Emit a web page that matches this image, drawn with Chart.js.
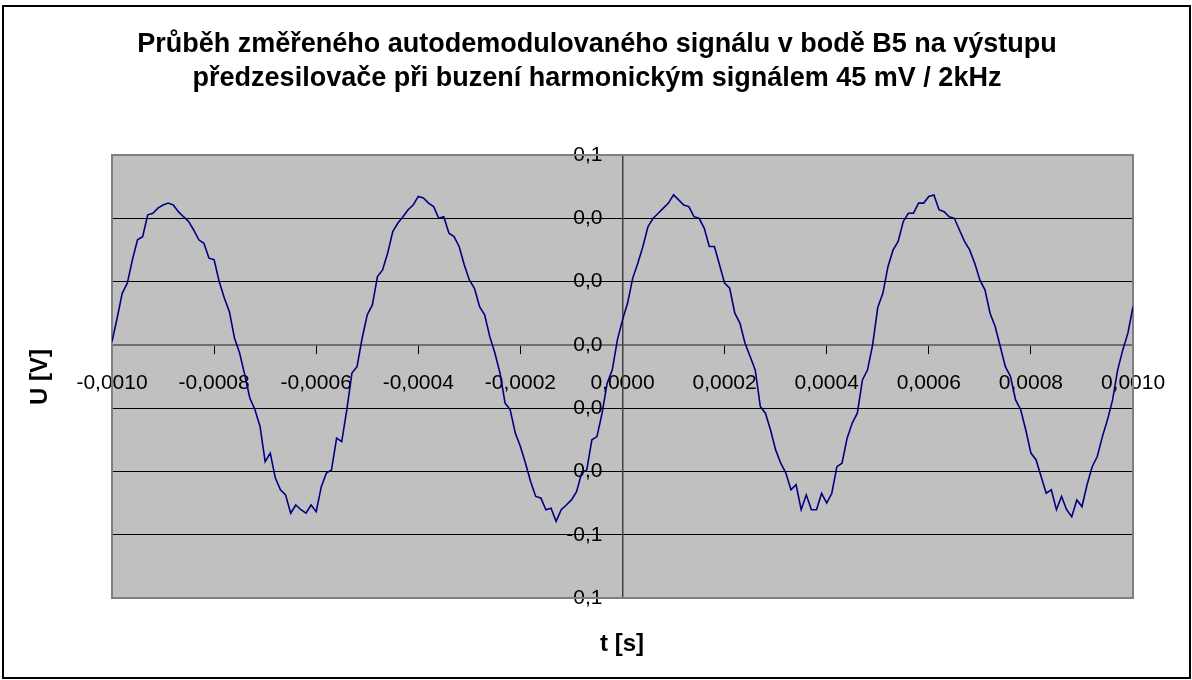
<!DOCTYPE html>
<html>
<head>
<meta charset="utf-8">
<script src="https://cdn.jsdelivr.net/npm/chart.js@4.4.0/dist/chart.umd.min.js"></script>
<style>
  html, body { margin: 0; padding: 0; background: #fff; }
  canvas { display: block; }
</style>
</head>
<body>
<canvas id="chart" width="1192" height="680"></canvas>
<script>
const titleLines = [
  'Průběh změřeného autodemodulovaného signálu v bodě B5 na výstupu',
  'předzesilovače při buzení harmonickým signálem 45 mV / 2kHz'
];
const xAxisTitle = 't [s]';
const yAxisTitle = 'U [V]';

// sampling of the scope trace (s)
const tStart = -0.001;
const tStep = 0.00001;

// measured voltage (V), one array per period of the 2 kHz signal
const cycle1 = [
  0.0010, 0.0084, 0.0163, 0.0195, 0.0269, 0.0332, 0.0342, 0.0411, 0.0416, 0.0432,
  0.0442, 0.0448, 0.0442, 0.0421, 0.0405, 0.0390, 0.0363, 0.0332, 0.0321, 0.0274,
  0.0269, 0.0200, 0.0148, 0.0105, 0.0021, -0.0026, -0.0095, -0.0168, -0.0205, -0.0258,
  -0.0369, -0.0342, -0.0421, -0.0458, -0.0474, -0.0532, -0.0506, -0.0521, -0.0532, -0.0506,
  -0.0527, -0.0448, -0.0405, -0.0395, -0.0295, -0.0306, -0.0205, -0.0089, -0.0069, 0.0021
];
const cycle2 = [
  0.0095, 0.0126, 0.0216, 0.0237, 0.0290, 0.0358, 0.0385, 0.0405, 0.0427, 0.0442,
  0.0469, 0.0464, 0.0448, 0.0437, 0.0400, 0.0405, 0.0353, 0.0342, 0.0311, 0.0253,
  0.0205, 0.0179, 0.0121, 0.0095, 0.0026, -0.0026, -0.0089, -0.0184, -0.0205, -0.0279,
  -0.0321, -0.0374, -0.0432, -0.0479, -0.0484, -0.0521, -0.0516, -0.0558, -0.0521, -0.0506,
  -0.0490, -0.0464, -0.0405, -0.0395, -0.0300, -0.0290, -0.0216, -0.0121, -0.0079, 0.0016
];
const cycle3 = [
  0.0079, 0.0132, 0.0211, 0.0258, 0.0311, 0.0374, 0.0400, 0.0416, 0.0432, 0.0448,
  0.0474, 0.0458, 0.0442, 0.0437, 0.0405, 0.0400, 0.0369, 0.0311, 0.0311, 0.0253,
  0.0195, 0.0179, 0.0100, 0.0069, 0.0005, -0.0037, -0.0079, -0.0195, -0.0216, -0.0269,
  -0.0332, -0.0374, -0.0405, -0.0458, -0.0442, -0.0521, -0.0474, -0.0521, -0.0521, -0.0469,
  -0.0500, -0.0469, -0.0385, -0.0374, -0.0295, -0.0247, -0.0216, -0.0111, -0.0079, 0.0000
];
const cycle4 = [
  0.0118, 0.0163, 0.0247, 0.0300, 0.0327, 0.0390, 0.0416, 0.0416, 0.0448, 0.0448,
  0.0469, 0.0474, 0.0427, 0.0421, 0.0405, 0.0400, 0.0363, 0.0327, 0.0300, 0.0258,
  0.0205, 0.0174, 0.0100, 0.0058, -0.0005, -0.0069, -0.0100, -0.0174, -0.0205, -0.0269,
  -0.0342, -0.0363, -0.0416, -0.0469, -0.0458, -0.0521, -0.0479, -0.0521, -0.0543, -0.0490,
  -0.0511, -0.0442, -0.0385, -0.0353, -0.0290, -0.0237, -0.0174, -0.0079, -0.0016, 0.0037,
  0.0121
];

// axis ranges and tick steps
const xMin = -0.001, xMax = 0.001, xStep = 0.0002;
const yMin = -0.08, yMax = 0.06, yStep = 0.02;
// y labels sit a little left of the axis line (value on the t axis)
const yLabelAt = -0.0000392;

const voltage = cycle1.concat(cycle2, cycle3, cycle4);
const points = voltage.map((v, i) => ({ x: tStart + i * tStep, y: v }));

const FONT = "'Liberation Sans', Arial, sans-serif";

function fmtComma(v, digits) {
  let s = v.toFixed(digits);
  if (/^-0[.,]0+$/.test(s)) s = s.slice(1);
  return s.replace('.', ',');
}

const frame = {
  id: 'frame',
  beforeDraw(chart) {
    const { ctx, chartArea: a } = chart;
    ctx.save();
    ctx.fillStyle = '#ffffff';
    ctx.fillRect(0, 0, chart.width, chart.height);
    ctx.fillStyle = '#c0c0c0';
    ctx.fillRect(a.left, a.top, a.right - a.left, a.bottom - a.top);
    ctx.restore();
  },
  beforeDatasetsDraw(chart) {
    const { ctx, chartArea: a } = chart;
    ctx.save();
    ctx.strokeStyle = '#808080';
    ctx.lineWidth = 2;
    ctx.strokeRect(a.left, a.top, a.right - a.left, a.bottom - a.top);
    ctx.restore();
  },
  afterDraw(chart) {
    const { ctx } = chart;
    ctx.save();
    ctx.fillStyle = '#000';
    ctx.textAlign = 'center';
    ctx.textBaseline = 'alphabetic';
    ctx.font = 'bold 27px ' + FONT;
    ctx.fillText(titleLines[0], 597, 52);
    ctx.fillText(titleLines[1], 597, 86);
    ctx.font = 'bold 24px ' + FONT;
    ctx.fillText(xAxisTitle, 622, 651);
    ctx.translate(47, 377);
    ctx.rotate(-Math.PI / 2);
    ctx.fillText(yAxisTitle, 0, 0);
    ctx.restore();

    ctx.save();
    ctx.strokeStyle = '#000';
    ctx.lineWidth = 2;
    ctx.strokeRect(3, 6, 1187, 672);
    ctx.restore();
  }
};

new Chart(document.getElementById('chart'), {
  type: 'line',
  data: {
    datasets: [{
      data: points,
      borderColor: '#000080',
      borderWidth: 1.6,
      pointRadius: 0,
      tension: 0,
      fill: false
    }]
  },
  options: {
    responsive: false,
    animation: false,
    devicePixelRatio: 1,
    layout: { padding: { left: 112, right: 59, top: 155, bottom: 82 } },
    plugins: {
      legend: { display: false },
      title: { display: false },
      tooltip: { enabled: false }
    },
    scales: {
      x: {
        type: 'linear',
        position: { y: 0 },
        min: xMin,
        max: xMax,
        border: { display: true, color: '#707070', width: 2 },
        grid: { drawOnChartArea: false, drawTicks: true, tickLength: 8, color: '#000' },
        ticks: {
          stepSize: xStep,
          autoSkip: false,
          maxRotation: 0,
          padding: 18,
          color: '#000',
          font: { family: FONT, size: 21 },
          callback: v => fmtComma(v, 4)
        }
      },
      y: {
        type: 'linear',
        position: { x: yLabelAt },
        min: yMin,
        max: yMax,
        border: { display: false },
        grid: { color: '#000', lineWidth: 1, drawTicks: false },
        ticks: {
          stepSize: yStep,
          autoSkip: false,
          color: '#000',
          font: { family: FONT, size: 21 },
          callback: v => fmtComma(v, 1)
        }
      },
      yAxisLine: {
        type: 'linear',
        axis: 'y',
        position: { x: 0 },
        min: yMin,
        max: yMax,
        border: { display: true, color: '#404040', width: 1.5 },
        grid: { drawOnChartArea: false, drawTicks: true, tickLength: 7, color: '#000' },
        ticks: { stepSize: yStep, display: false }
      }
    }
  },
  plugins: [frame]
});
</script>
</body>
</html>
